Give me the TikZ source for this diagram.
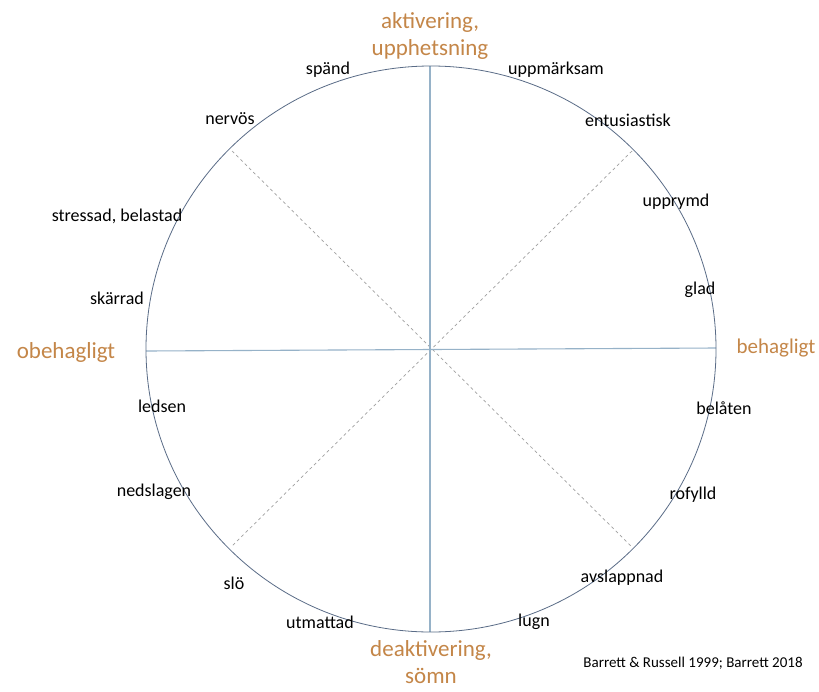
\documentclass[tikz,border=0pt]{standalone}
\usepackage{fontspec}
\setmainfont{Carlito}
\usetikzlibrary{calc}
\definecolor{axisorange}{RGB}{196,134,72}
\definecolor{circleblue}{RGB}{90,108,135}
\definecolor{axisblue}{RGB}{150,178,200}
\definecolor{diaggray}{RGB}{160,160,160}
\begin{document}
\begin{tikzpicture}[x=1pt,y=-1pt,
  emo/.style={font=\fontsize{18}{20}\selectfont, text=black, inner sep=0pt},
  axislbl/.style={font=\fontsize{23}{27}\selectfont, text=axisorange, inner sep=0pt, align=center},
  axisline/.style={draw=axisblue, line width=1.1pt},
  diagline/.style={draw=diaggray, line width=0.7pt, dash pattern=on 3pt off 3pt},
  ring/.style={draw=circleblue, line width=0.8pt}]
\useasboundingbox[fill=white] (0,0) rectangle (819,691);
\coordinate (c) at (431,349);
\coordinate (top) at (430,66);
\coordinate (bot) at (430,632);
\coordinate (lft) at (146,351);
\coordinate (rgt) at (716,348);
\coordinate (ne) at ($(c)+(201,-198)$);
\coordinate (sw) at ($(c)+(-199,197)$);
\coordinate (nw) at ($(c)+(-199,-198)$);
\coordinate (se) at ($(c)+(200,197)$);
\draw[diagline] (ne) -- (sw);
\draw[diagline] (nw) -- (se);
\draw[axisline] (top) -- (bot);
\draw[axisline] (lft) -- (rgt);
\draw[ring] (c) ellipse [x radius=285, y radius=283];
% axis labels
\node[axislbl] (act) at (430,36) {aktivering,\\upphetsning};
\node[axislbl] (deact) at (431,662) {deaktivering,\\sömn};
\node[axislbl] (obeh) at (66,352) {obehagligt};
\node[axislbl, font=\fontsize{21}{25}\selectfont] (beh) at (776,348) {behagligt};
% emotion labels
\node[emo] (spand) at (328,70) {spänd};
\node[emo] (uppm) at (556,70) {uppmärksam};
\node[emo] (nervos) at (230,119) {nervös};
\node[emo] (entus) at (628,120) {entusiastisk};
\node[emo] (stress) at (117,216) {stressad, belastad};
\node[emo] (upprymd) at (676,202) {upprymd};
\node[emo] (skarrad) at (117,298) {skärrad};
\node[emo] (glad) at (700,290) {glad};
\node[emo] (ledsen) at (162,406) {ledsen};
\node[emo] (belaten) at (724,408) {belåten};
\node[emo] (nedsl) at (154,492) {nedslagen};
\node[emo] (rofylld) at (693,495) {rofylld};
\node[emo] (slo) at (234,583) {slö};
\node[emo] (avsl) at (622,578) {avslappnad};
\node[emo] (utm) at (320,622) {utmattad};
\node[emo] (lugn) at (534,622) {lugn};
\node[font=\fontsize{15}{17}\selectfont, inner sep=0pt] (ref) at (693,663) {Barrett \& Russell 1999; Barrett 2018};
\end{tikzpicture}
\end{document}
